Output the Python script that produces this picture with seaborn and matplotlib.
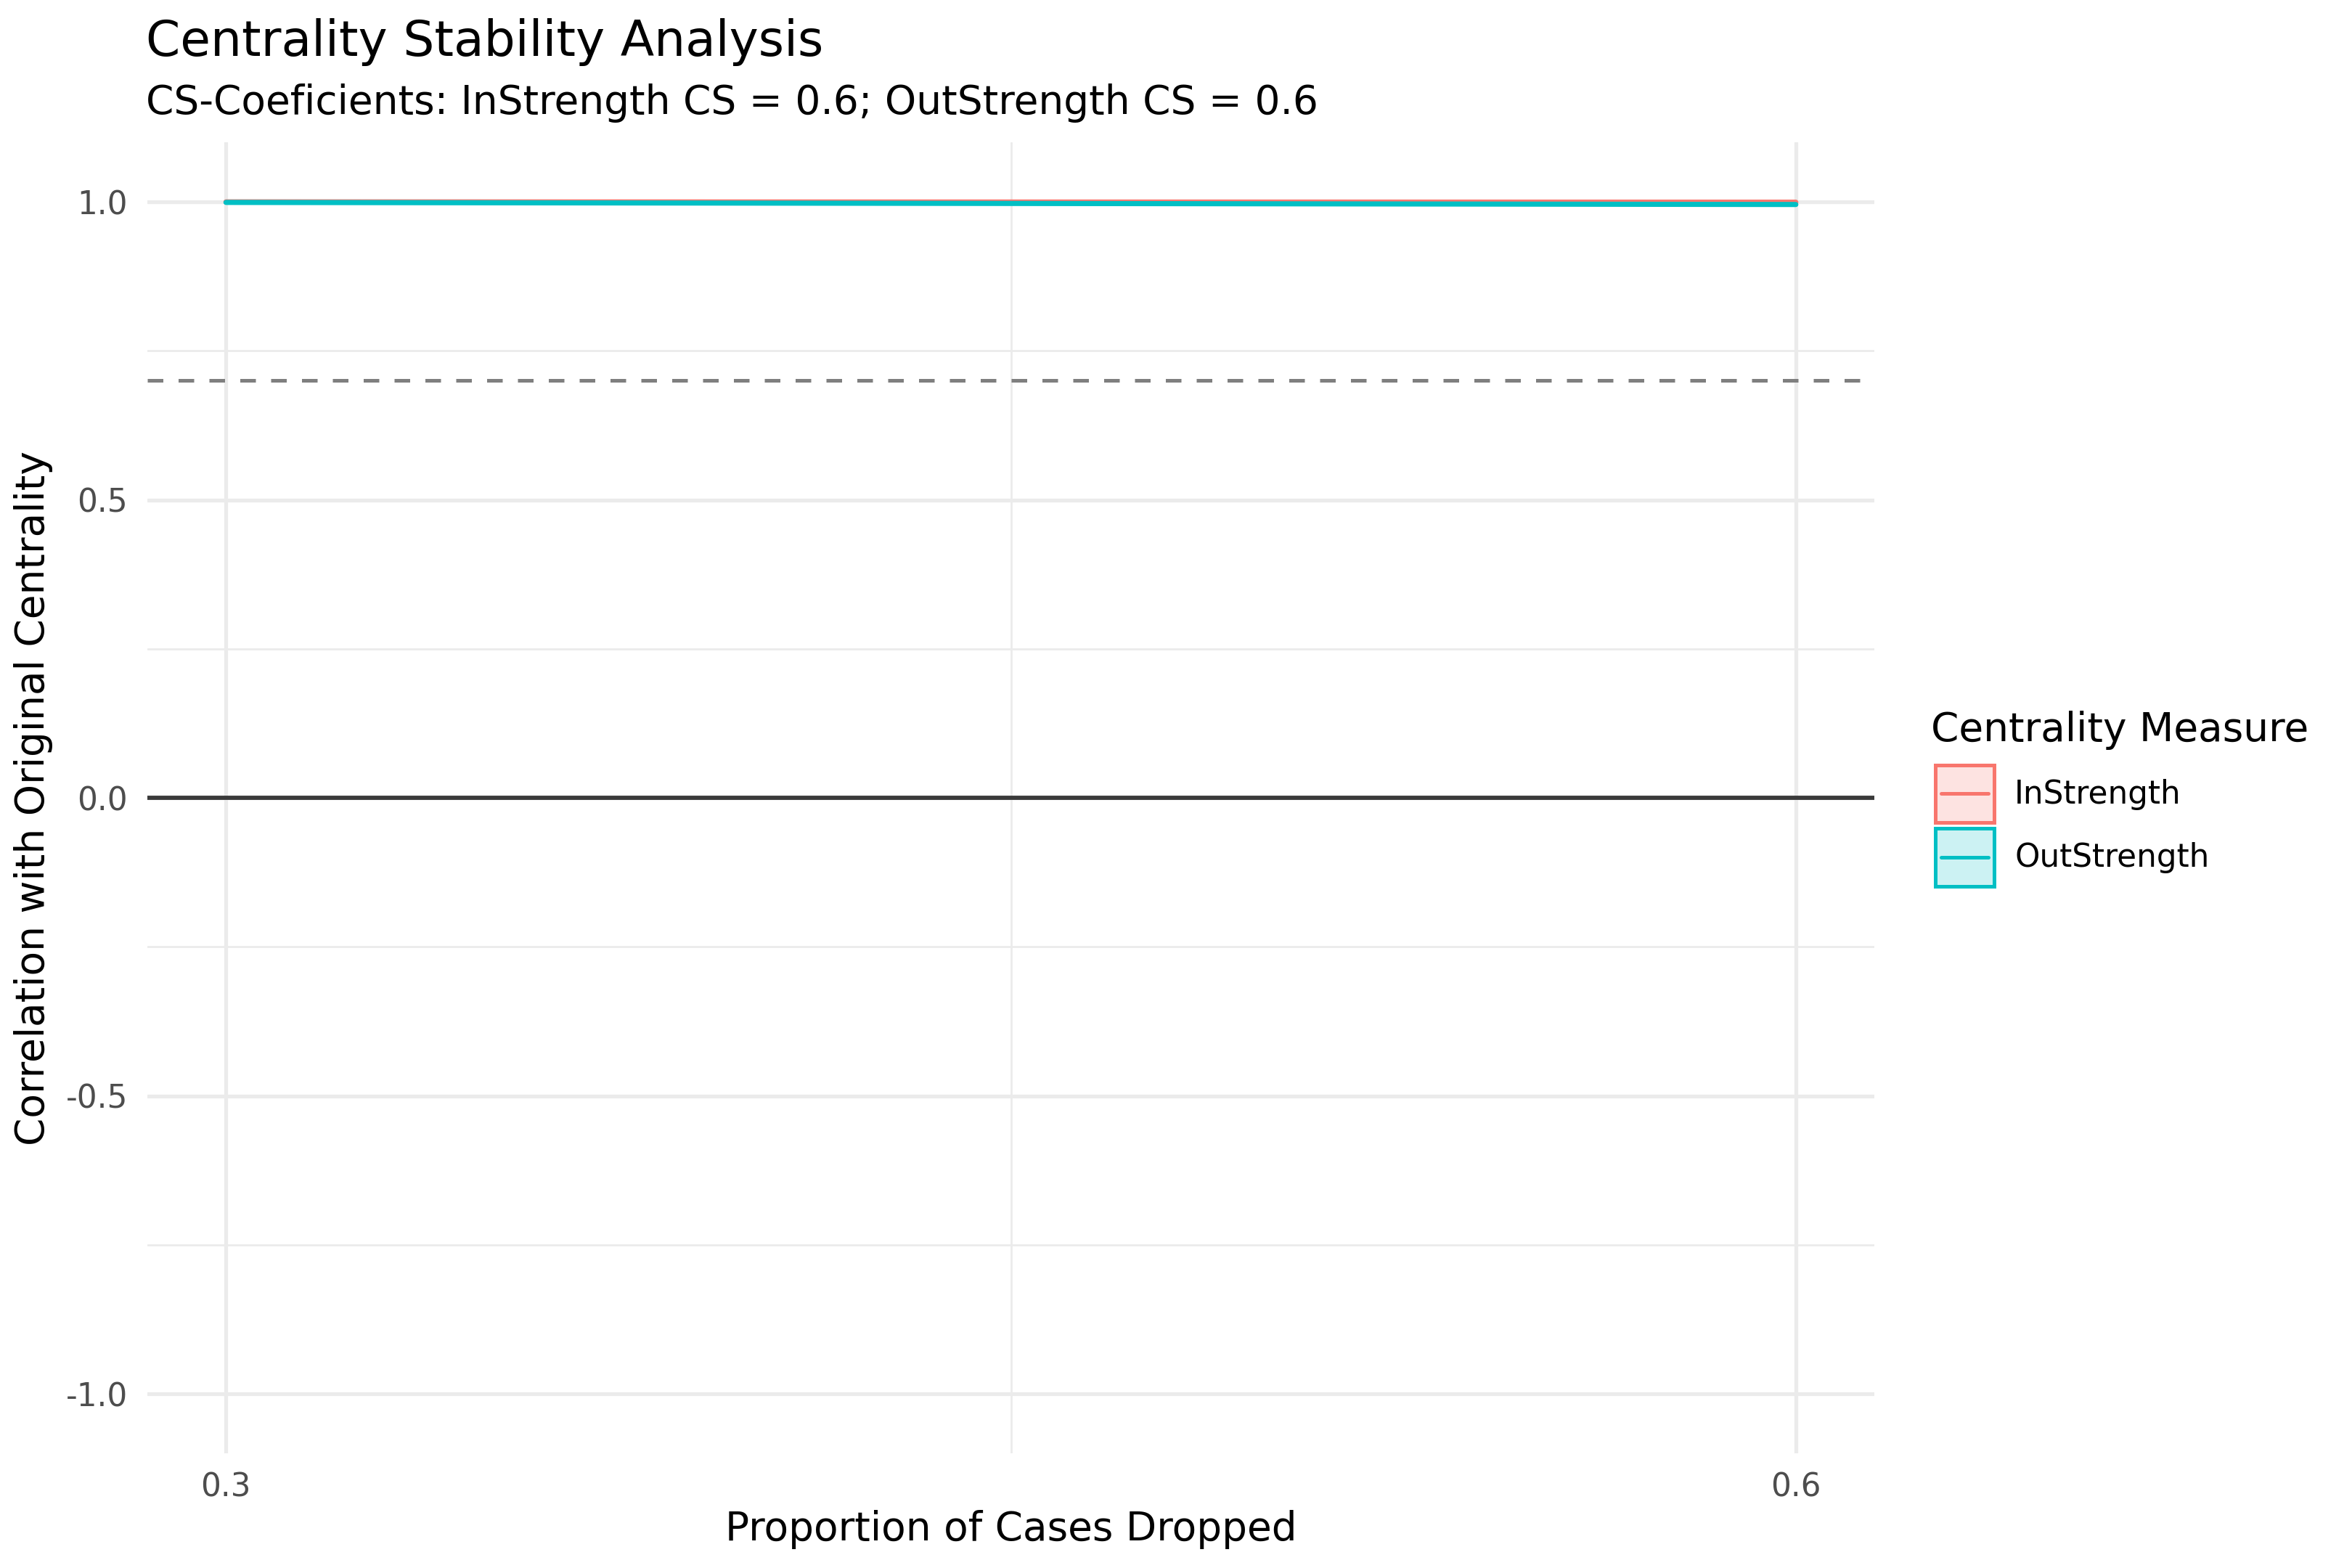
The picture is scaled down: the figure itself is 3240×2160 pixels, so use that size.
import numpy as np
import pandas as pd
import matplotlib
matplotlib.use("Agg")
import matplotlib.pyplot as plt
import seaborn as sns
from matplotlib.patches import Rectangle
from matplotlib.lines import Line2D
from matplotlib.colors import to_rgba

# -------------------------
# data
# -------------------------
prop_dropped = [0.3, 0.6]
measures = ["InStrength", "OutStrength"]
in_mean = [0.9999, 0.9994]
in_lower = [0.9995, 0.9988]
in_upper = [1.0000, 0.9998]
out_mean = [0.9990, 0.9955]
out_lower = [0.9984, 0.9946]
out_upper = [0.9995, 0.9963]
cs_cutoff = 0.7
cs_in = 0.6
cs_out = 0.6

colors = {"InStrength": "#F8766D", "OutStrength": "#00BFC4"}

df = pd.DataFrame({
    "prop": prop_dropped * 2,
    "measure": [measures[0]] * 2 + [measures[1]] * 2,
    "cor": in_mean + out_mean,
    "lower": in_lower + out_lower,
    "upper": in_upper + out_upper,
})


# legend key: filled box with a line through the middle (ggplot style)
class BoxLineHandler:
    def legend_artist(self, legend, orig_handle, fontsize, handlebox):
        lw = 1.2
        inset = lw / 2
        x0, y0 = -handlebox.xdescent + inset, -handlebox.ydescent + inset
        w, h = handlebox.width - 2 * inset, handlebox.height - 2 * inset
        c = orig_handle.get_color()
        tr = handlebox.get_transform()
        rect = Rectangle((x0, y0), w, h, facecolor=to_rgba(c, 0.2),
                         edgecolor=c, lw=lw, transform=tr)
        line = Line2D([x0 + 0.1 * w, x0 + 0.9 * w], [y0 + h / 2] * 2,
                      color=c, lw=lw, transform=tr)
        handlebox.add_artist(rect)
        handlebox.add_artist(line)
        return rect


# -------------------------
# plot
# -------------------------
sns.set_theme(style="white")
plt.rcParams["font.family"] = ["DejaVu Sans"]

fig = plt.figure(figsize=(10.8, 7.2), dpi=300)
ax = fig.add_axes([0.0627, 0.0731, 0.7342, 0.8362])

# grid like theme_minimal
for y in [-1.0, -0.5, 0.0, 0.5, 1.0]:
    ax.axhline(y, color="#EBEBEB", lw=1.25, zorder=0)
for y in [-0.75, -0.25, 0.25, 0.75]:
    ax.axhline(y, color="#EBEBEB", lw=0.65, zorder=0)
for x in [0.3, 0.6]:
    ax.axvline(x, color="#EBEBEB", lw=1.25, zorder=0)
ax.axvline(0.45, color="#EBEBEB", lw=0.65, zorder=0)

ax.axhline(0, color="#3A3A3A", lw=1.4, zorder=1)
ax.axhline(cs_cutoff, color="#7F7F7F", lw=1.2, ls=(0, (4.3, 4.2)), zorder=1)

for m in measures:
    sub = df[df["measure"] == m]
    ax.fill_between(sub["prop"], sub["lower"], sub["upper"],
                    color=colors[m], alpha=0.2, lw=0, zorder=2)

sns.lineplot(data=df, x="prop", y="cor", hue="measure", palette=colors,
             hue_order=measures, lw=1.7, ax=ax, legend=False, zorder=3)

ax.set_xlim(0.285, 0.615)
ax.set_ylim(-1.1, 1.1)
ax.set_xticks([0.3, 0.6])
ax.set_xticklabels(["0.3", "0.6"])
ax.set_yticks([-1.0, -0.5, 0.0, 0.5, 1.0])
ax.set_yticklabels(["-1.0", "-0.5", "0.0", "0.5", "1.0"])
ax.tick_params(axis="x", length=0, labelsize=10.5, labelcolor="#4D4D4D", pad=6)
ax.tick_params(axis="y", length=0, labelsize=10.5, labelcolor="#4D4D4D", pad=6.5)
ax.grid(False)
for s in ax.spines.values():
    s.set_visible(False)

ax.set_xlabel("")
ax.set_ylabel("")
fig.text(0.4298, 1 - 2122 / 2160, "Proportion of Cases Dropped", ha="center", va="baseline",
         fontsize=13.2, color="black")
fig.text(0.0142, 0.491, "Correlation with Original Centrality", ha="center", va="center",
         rotation=90, fontsize=13.2, color="black")

fig.text(0.0620, 0.9644, "Centrality Stability Analysis", ha="left", va="baseline",
         fontsize=16.3, color="black")
fig.text(0.0620, 0.9273,
         f"CS-Coeficients: InStrength CS = {cs_in}; OutStrength CS = {cs_out}",
         ha="left", va="baseline", fontsize=13.2, color="black")

# legend
fig.text(2660 / 3240, 1 - 1021 / 2160, "Centrality Measure", ha="left", va="baseline",
         fontsize=13.2, color="black")
handles = [Line2D([], [], color=colors[m]) for m in measures]
leg = fig.legend(handles, measures, loc="upper left",
                 bbox_to_anchor=(2663 / 3240, 1 - 1051 / 2160),
                 handler_map={Line2D: BoxLineHandler()},
                 frameon=False, fontsize=10.5,
                 handlelength=1.98, handleheight=2.6, handletextpad=0.58,
                 labelspacing=0.07, borderpad=0, borderaxespad=0)
for t in leg.get_texts():
    t.set_color("black")

fig.savefig("out.png", dpi=300)
